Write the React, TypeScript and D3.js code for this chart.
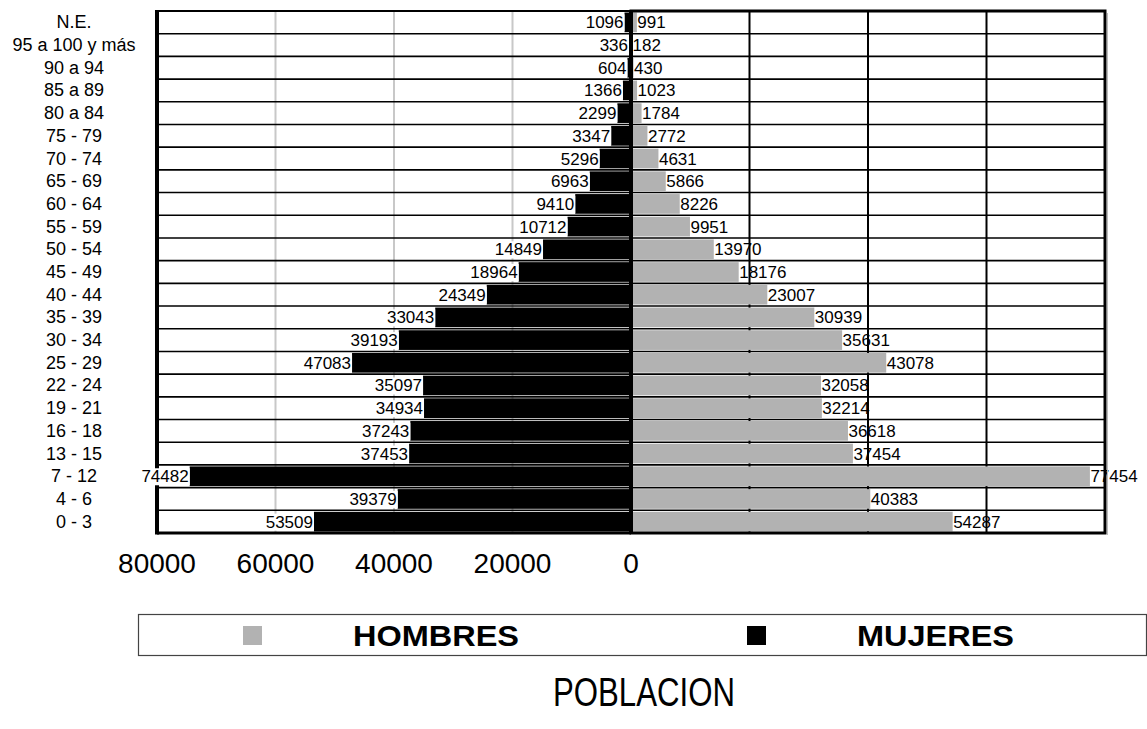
import { useEffect, useRef } from 'react';
import * as d3 from 'd3';

// age groups, top to bottom
const categories = [
  'N.E.', '95 a 100 y más', '90 a 94', '85 a 89', '80 a 84', '75 - 79', '70 - 74',
  '65 - 69', '60 - 64', '55 - 59', '50 - 54', '45 - 49', '40 - 44', '35 - 39',
  '30 - 34', '25 - 29', '22 - 24', '19 - 21', '16 - 18', '13 - 15', '7 - 12',
  '4 - 6', '0 - 3',
];

const mujeres = [
  1096, 336, 604, 1366, 2299, 3347, 5296, 6963, 9410, 10712, 14849, 18964,
  24349, 33043, 39193, 47083, 35097, 34934, 37243, 37453, 74482, 39379, 53509,
];

const hombres = [
  991, 182, 430, 1023, 1784, 2772, 4631, 5866, 8226, 9951, 13970, 18176,
  23007, 30939, 35631, 43078, 32058, 32214, 36618, 37454, 77454, 40383, 54287,
];

const axisTicks = [80000, 60000, 40000, 20000, 0];
const gridValues = [20000, 40000, 60000];

const WIDTH = 1147;
const HEIGHT = 729;
const ZERO_X = 631;
const LEFT_X = 157;
const RIGHT_X = 1105;
const TOP_Y = 11;
const BOTTOM_Y = 533;
const FONT = '"Liberation Sans", Arial, sans-serif';
const GRAY = '#b2b2b2';

const App = () => {
  const svgRef = useRef<SVGSVGElement>(null);

  useEffect(() => {
    if (!svgRef.current) return;
    const svg = d3.select(svgRef.current);
    svg.selectAll('*').remove();

    const xLeft = d3.scaleLinear().domain([0, 80000]).range([ZERO_X, LEFT_X]);
    const xRight = d3.scaleLinear().domain([0, 80000]).range([ZERO_X, RIGHT_X]);
    const y = d3.scaleBand<string>().domain(categories).range([TOP_Y, BOTTOM_Y]);
    const bw = y.bandwidth();
    const pad = 1.5;

    // gridlines: gray on the left half, black on the right half
    svg
      .append('g')
      .selectAll('line')
      .data(gridValues)
      .join('line')
      .attr('x1', (d) => xLeft(d))
      .attr('x2', (d) => xLeft(d))
      .attr('y1', TOP_Y)
      .attr('y2', BOTTOM_Y)
      .attr('stroke', '#c8c8c8')
      .attr('stroke-width', 2);

    svg
      .append('g')
      .selectAll('line')
      .data(gridValues)
      .join('line')
      .attr('x1', (d) => xRight(d))
      .attr('x2', (d) => xRight(d))
      .attr('y1', TOP_Y)
      .attr('y2', BOTTOM_Y)
      .attr('stroke', '#000')
      .attr('stroke-width', 2);

    // row separators
    svg
      .append('g')
      .selectAll('line')
      .data(categories.slice(1))
      .join('line')
      .attr('x1', LEFT_X)
      .attr('x2', RIGHT_X)
      .attr('y1', (d) => y(d) ?? 0)
      .attr('y2', (d) => y(d) ?? 0)
      .attr('stroke', '#000')
      .attr('stroke-width', 1.6);

    // bars
    svg
      .append('g')
      .selectAll('rect')
      .data(categories)
      .join('rect')
      .attr('x', (_, i) => xLeft(mujeres[i]))
      .attr('y', (d) => (y(d) ?? 0) + pad)
      .attr('width', (_, i) => ZERO_X - xLeft(mujeres[i]))
      .attr('height', bw - pad * 2)
      .attr('fill', '#000');

    svg
      .append('g')
      .selectAll('rect')
      .data(categories)
      .join('rect')
      .attr('x', ZERO_X)
      .attr('y', (d) => (y(d) ?? 0) + pad)
      .attr('width', (_, i) => xRight(hombres[i]) - ZERO_X)
      .attr('height', bw - pad * 2)
      .attr('fill', GRAY);

    // right value labels
    svg
      .append('g')
      .selectAll('text')
      .data(categories)
      .join('text')
      .attr('x', (_, i) => xRight(hombres[i]) + 0.5)
      .attr('y', (d) => (y(d) ?? 0) + bw / 2 + 6)
      .attr('font-family', FONT)
      .attr('font-size', 17)
      .text((_, i) => String(hombres[i]));

    // frames
    svg
      .append('line')
      .attr('x1', LEFT_X)
      .attr('x2', ZERO_X)
      .attr('y1', TOP_Y)
      .attr('y2', TOP_Y)
      .attr('stroke', '#000')
      .attr('stroke-width', 2);
    svg
      .append('line')
      .attr('x1', LEFT_X)
      .attr('x2', LEFT_X)
      .attr('y1', TOP_Y - 1)
      .attr('y2', BOTTOM_Y + 1.5)
      .attr('stroke', '#000')
      .attr('stroke-width', 4);
    svg
      .append('line')
      .attr('x1', LEFT_X)
      .attr('x2', ZERO_X)
      .attr('y1', BOTTOM_Y)
      .attr('y2', BOTTOM_Y)
      .attr('stroke', '#000')
      .attr('stroke-width', 3);
    svg
      .append('line')
      .attr('x1', RIGHT_X + 2.5)
      .attr('x2', RIGHT_X + 2.5)
      .attr('y1', TOP_Y + 2)
      .attr('y2', BOTTOM_Y + 2)
      .attr('stroke', '#bbb')
      .attr('stroke-width', 1);
    svg
      .append('rect')
      .attr('x', ZERO_X)
      .attr('y', TOP_Y)
      .attr('width', RIGHT_X - ZERO_X)
      .attr('height', BOTTOM_Y - TOP_Y)
      .attr('fill', 'none')
      .attr('stroke', '#000')
      .attr('stroke-width', 3);
    svg
      .append('line')
      .attr('x1', ZERO_X)
      .attr('x2', ZERO_X)
      .attr('y1', TOP_Y)
      .attr('y2', BOTTOM_Y)
      .attr('stroke', '#000')
      .attr('stroke-width', 4);

    // left value labels with white boxes
    const leftLabels = svg.append('g');
    categories.forEach((c, i) => {
      const g = leftLabels.append('g');
      const t = g
        .append('text')
        .attr('x', xLeft(mujeres[i]) - 1)
        .attr('y', (y(c) ?? 0) + bw / 2 + 6)
        .attr('text-anchor', 'end')
        .attr('font-family', FONT)
        .attr('font-size', 17)
        .text(String(mujeres[i]));
      const box = (t.node() as SVGTextElement).getBBox();
      g.insert('rect', 'text')
        .attr('x', box.x - 1)
        .attr('y', box.y + 1)
        .attr('width', box.width + 2)
        .attr('height', box.height - 2)
        .attr('fill', '#fff');
    });

    // category labels
    svg
      .append('g')
      .selectAll('text')
      .data(categories)
      .join('text')
      .attr('x', 74)
      .attr('y', (d) => (y(d) ?? 0) + bw / 2 + 6)
      .attr('text-anchor', 'middle')
      .attr('font-family', FONT)
      .attr('font-size', 18)
      .text((d) => d);

    // bottom axis labels (left half only)
    svg
      .append('g')
      .selectAll('text')
      .data(axisTicks)
      .join('text')
      .attr('x', (d) => xLeft(d))
      .attr('y', 573)
      .attr('text-anchor', 'middle')
      .attr('font-family', FONT)
      .attr('font-size', 28)
      .text((d) => String(d));

    // legend
    const legend = svg.append('g');
    legend
      .append('rect')
      .attr('x', 138.5)
      .attr('y', 614.5)
      .attr('width', 1008)
      .attr('height', 41)
      .attr('fill', '#fff')
      .attr('stroke', '#444')
      .attr('stroke-width', 1.2);
    const legendItems = [
      { label: 'HOMBRES', color: GRAY, sx: 243, tx: 353, tw: 166 },
      { label: 'MUJERES', color: '#000', sx: 747, tx: 857, tw: 157 },
    ];
    legendItems.forEach((it) => {
      legend
        .append('rect')
        .attr('x', it.sx)
        .attr('y', 626)
        .attr('width', 19)
        .attr('height', 19)
        .attr('fill', it.color);
      legend
        .append('text')
        .attr('x', it.tx)
        .attr('y', 646)
        .attr('font-family', FONT)
        .attr('font-weight', 'bold')
        .attr('font-size', 30)
        .attr('textLength', it.tw)
        .attr('lengthAdjust', 'spacingAndGlyphs')
        .text(it.label);
    });

    // title
    svg
      .append('text')
      .attr('x', 553)
      .attr('y', 706)
      .attr('font-family', FONT)
      .attr('font-size', 40)
      .attr('textLength', 182)
      .attr('lengthAdjust', 'spacingAndGlyphs')
      .text('POBLACION');
  }, []);

  return (
    <svg
      ref={svgRef}
      width={WIDTH}
      height={HEIGHT}
      style={{ position: 'absolute', left: 0, top: 0, background: '#fff' }}
    />
  );
};

export default App;
